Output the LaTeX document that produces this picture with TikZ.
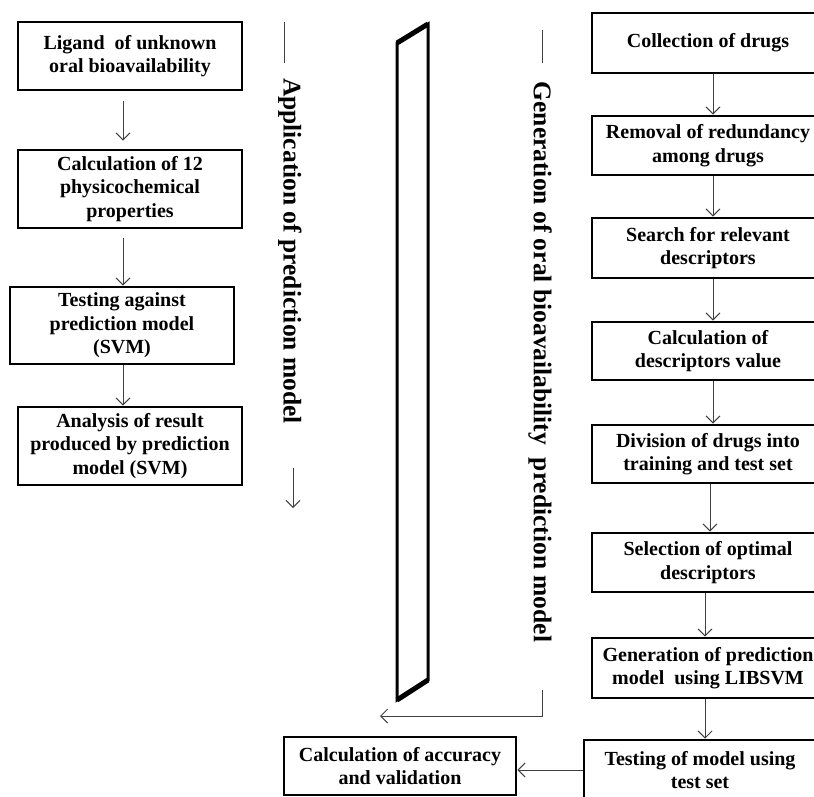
\documentclass[tikz,border=0pt]{standalone}
\usepackage{fontspec}
\setmainfont{Liberation Serif}
\usetikzlibrary{arrows,arrows.meta}
\tikzset{stage/.style={draw=black,line width=2.7pt,align=center,text=black,
    font=\bfseries\fontsize{20}{23.5}\selectfont,inner sep=1pt}}
\tikzset{lbox/.style={stage,minimum width=224pt},rbox/.style={stage,minimum width=232pt}}
\tikzset{flow/.style={-{Straight Barb[length=7pt,width=14pt]},line width=1pt,draw=black!75}}
\tikzset{sidetext/.style={rotate=-90,text=black,font=\bfseries\fontsize{25.5}{28}\selectfont}}

\begin{document}
\begin{tikzpicture}[x=1pt,y=-1pt]
\useasboundingbox (0,0) rectangle (814,797);
% \draw[help lines] (0,0) grid (814,797);
\node (a1) [lbox,minimum height=68pt] at (130,56) {Ligand\ \ of unknown\\oral bioavailability};
\node (a2) [lbox,minimum height=78pt] at (130,189) {Calculation of 12\\physicochemical\\properties};
\node (a3) [lbox,minimum height=77pt] at (122,325.5) {Testing against\\prediction model\\(SVM)};
\node (a4) [lbox,minimum height=78pt] at (130,446) {Analysis of result\\produced by prediction\\model (SVM)};
%
\node (g1) [rbox,minimum height=60pt] at (708,43) {Collection of drugs};
\node (g2) [rbox,minimum height=59pt] at (708,145.5) {Removal of redundancy\\among drugs};
\node (g3) [rbox,minimum height=60pt] at (708,248) {Search for relevant\\descriptors};
\node (g4) [rbox,minimum height=58pt] at (708,351) {Calculation of\\descriptors value};
\node (g5) [rbox,minimum height=58pt] at (708,454) {Division of drugs into\\training and test set};
\node (g6) [rbox,minimum height=59pt] at (708,562.5) {Selection of optimal\\descriptors};
\node (g7) [rbox,minimum height=60pt] at (708,668) {Generation of prediction\\model\ \ using LIBSVM};
\node (g8) [rbox,minimum height=60pt] at (700,770) {Testing of model using\\test set};
\node (acc) [stage,minimum width=232pt,minimum height=58pt] at (400,766) {Calculation of accuracy\\and validation};
%
\node (appl) [sidetext] at (290,251) {Application of prediction model};
\node (gen) [sidetext] at (540,362) {Generation of oral bioavailability\ \ prediction model};
\draw[line width=1pt,black!75] (284,22) -- (284,63);
\draw[line width=1pt,black!75] (542,30) -- (542,63);
%
\draw[line width=3pt,line join=miter] (397,43) -- (428,24) -- (428,680) -- (397,700) -- cycle;
\draw[line width=5pt] (397,43) -- (428,24) (428,680) -- (397,700);
%
\draw[flow,shorten <=10pt,shorten >=8pt] ([xshift=-7pt]a1.south) -- ([xshift=-7pt]a2.north);
\draw[flow,shorten <=9pt] ([xshift=-7pt]a2.south) -- ([xshift=-7pt]a2.south |- a3.north);
\draw[flow] ([xshift=1pt]a3.south) -- ([xshift=1pt]a3.south |- a4.north);
\foreach \u/\v/\s in {g1/g2/5,g2/g3/5,g3/g4/5,g4/g5/5,g5/g6/2,g6/g7/-3,g7/g8/-3}
  \draw[flow] ([xshift=\s pt]\u.south) -- ([xshift=\s pt]\u.south |- \v.north);
\draw[flow] (g8.west) -- (g8.west -| acc.east);
%
\coordinate (down) at (293,468);
\coordinate (elbow) at (542,690);
\coordinate (turn) at (380,716);
\draw[flow] (down) -- ++(0,40);
\draw[flow] (elbow) |- (turn);
\end{tikzpicture}
\end{document}
